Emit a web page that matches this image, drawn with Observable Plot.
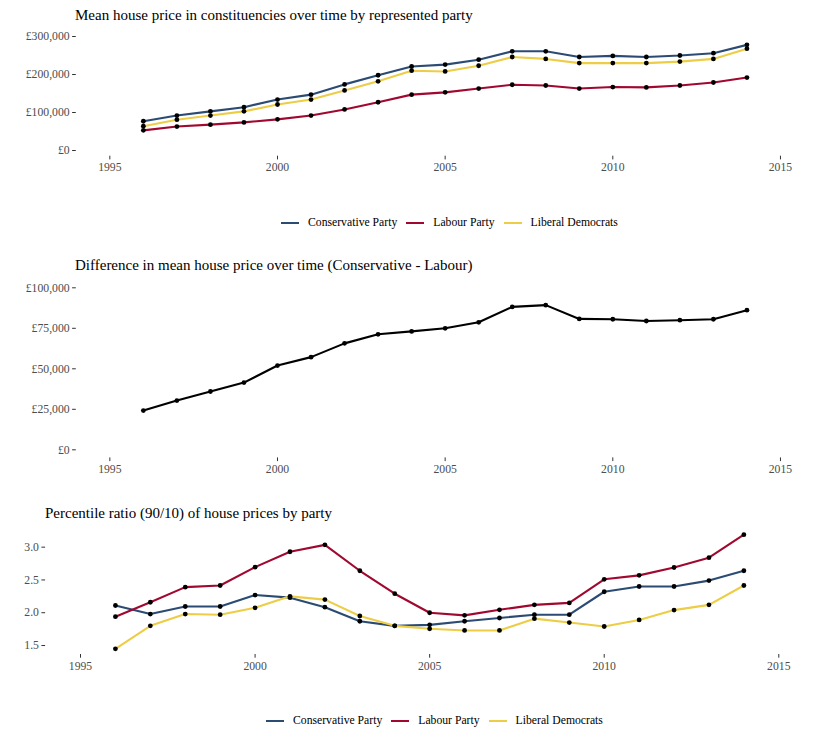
<!DOCTYPE html>
<html>
<head>
<meta charset="utf-8">
<script src="https://cdn.jsdelivr.net/npm/d3@7"></script>
<script src="https://cdn.jsdelivr.net/npm/@observablehq/plot@0.6"></script>
<style>
  html, body { margin: 0; padding: 0; background: #fff; }
  #root { position: relative; width: 821px; height: 748px; font-family: "Liberation Serif", "Times New Roman", serif; }
  #root svg, #root svg text { font-family: "Liberation Serif", "Times New Roman", serif !important; }
  .abs { position: absolute; }
  .title { font-size: 15px; line-height: 20px; color: #000; white-space: nowrap; }
  .legend { display: flex; align-items: center; font-size: 11.7px; color: #000; line-height: 16px; white-space: nowrap; }
  .legend .key { width: 18px; height: 2px; margin-right: 9px; }
  .legend .lab { margin-right: 9px; }
</style>
</head>
<body>
<div id="root"></div>
<script>
// ---------- data ----------
const years = [1996, 1997, 1998, 1999, 2000, 2001, 2002, 2003, 2004, 2005, 2006, 2007, 2008, 2009, 2010, 2011, 2012, 2013, 2014];
const parties = ["Conservative Party", "Labour Party", "Liberal Democrats"];
const partyColors = ["#2B4B73", "#A0082F", "#EDCD45"];

// Mean house price (GBP) by represented party
const conMean = [77000, 92000, 103000, 114000, 134000, 147000, 174000, 198000, 221000, 226000, 239000, 261000, 261000, 246000, 249000, 246000, 250000, 256000, 278000];
const labMean = [53000, 63000, 68000, 74000, 82000, 92000, 108000, 127000, 147000, 153000, 163000, 173000, 171000, 163000, 167000, 166000, 171000, 179000, 192000];
const ldMean  = [64000, 81000, 92000, 103000, 121000, 134000, 158000, 182000, 210000, 208000, 223000, 246000, 241000, 230000, 230000, 230000, 234000, 241000, 268000];

// Difference in mean house price (Conservative - Labour)
const diffMean = [24200, 30400, 36000, 41500, 52000, 57200, 65700, 71300, 73100, 75000, 78700, 88200, 89300, 80800, 80600, 79500, 80000, 80600, 86200];

// Percentile ratio 90/10
const conRatio = [2.11, 1.98, 2.095, 2.095, 2.27, 2.23, 2.085, 1.87, 1.80, 1.815, 1.87, 1.92, 1.97, 1.97, 2.32, 2.40, 2.40, 2.49, 2.64];
const labRatio = [1.94, 2.16, 2.39, 2.415, 2.695, 2.93, 3.035, 2.64, 2.29, 2.00, 1.96, 2.045, 2.12, 2.15, 2.51, 2.57, 2.69, 2.84, 3.19];
const ldRatio  = [1.45, 1.80, 1.98, 1.97, 2.075, 2.25, 2.20, 1.95, 1.80, 1.755, 1.73, 1.73, 1.91, 1.85, 1.79, 1.89, 2.04, 2.12, 2.415];

const xTicks = [1995, 2000, 2005, 2010, 2015];
const meanTicks = [0, 100000, 200000, 300000];
const diffTicks = [0, 25000, 50000, 75000, 100000];
const ratioTicks = [1.5, 2.0, 2.5, 3.0];

// ---------- helpers ----------
const root = document.getElementById("root");
const pound = d => "£" + d3.format(",")(d);

function longTable(seriesList) {
  return seriesList.flatMap((vals, i) => years.map((y, j) => ({year: y, value: vals[j], party: parties[i]})));
}

function addTitle(text, left, centerY) {
  const d = document.createElement("div");
  d.className = "abs title";
  d.style.left = left + "px";
  d.style.top = (centerY - 10) + "px";
  d.textContent = text;
  root.appendChild(d);
}

function addLegend(left, centerY) {
  const d = document.createElement("div");
  d.className = "abs legend";
  d.style.left = left + "px";
  d.style.top = (centerY - 8) + "px";
  parties.forEach((p, i) => {
    const k = document.createElement("span");
    k.className = "key";
    k.style.background = partyColors[i];
    const t = document.createElement("span");
    t.className = "lab";
    t.textContent = p;
    d.appendChild(k);
    d.appendChild(t);
  });
  root.appendChild(d);
}

function panel({top, height, mL, mR, mT, mB, yDomain, yTicks, yFormat, data, single}) {
  const axisStyle = {tickSize: 3.7, tickPadding: 3, stroke: "#333333", fill: "#4D4D4D"};
  const marks = [
    Plot.axisX({...axisStyle, ticks: xTicks, tickFormat: d => String(d), label: null}),
    Plot.axisY({...axisStyle, ticks: yTicks, tickFormat: yFormat, label: null})
  ];
  if (single) {
    marks.push(Plot.line(data, {x: "year", y: "value", stroke: "black", strokeWidth: 2.1}));
  } else {
    marks.push(Plot.line(data, {x: "year", y: "value", stroke: "party", strokeWidth: 2.1}));
  }
  marks.push(Plot.dot(data, {x: "year", y: "value", fill: "black", r: 2.4}));
  const svg = Plot.plot({
    width: 821,
    height,
    marginLeft: mL, marginRight: mR, marginTop: mT, marginBottom: mB,
    x: {domain: [1994, 2016]},
    y: {domain: yDomain},
    color: {domain: parties, range: partyColors},
    style: "font-family: 'Liberation Serif', 'Times New Roman', serif; font-size: 11.7px; color: #4D4D4D; background: transparent; overflow: visible;",
    marks
  });
  const wrap = document.createElement("div");
  wrap.className = "abs";
  wrap.style.left = "0px";
  wrap.style.top = top + "px";
  wrap.appendChild(svg);
  root.appendChild(wrap);
}

// ---------- panel 1 ----------
addTitle("Mean house price in constituencies over time by represented party", 75, 15);
panel({top: 20, height: 160, mL: 75.8, mR: 7.5, mT: 10.3, mB: 24.3,
  yDomain: [-15000, 315000], yTicks: meanTicks, yFormat: pound,
  data: longTable([conMean, labMean, ldMean])});
addLegend(281, 223);

// ---------- panel 2 ----------
addTitle("Difference in mean house price over time (Conservative - Labour)", 75, 265);
panel({top: 270, height: 210, mL: 75.8, mR: 7.5, mT: 9.2, mB: 22.6,
  yDomain: [-5000, 105000], yTicks: diffTicks, yFormat: pound,
  data: years.map((y, j) => ({year: y, value: diffMean[j]})), single: true});

// ---------- panel 3 ----------
addTitle("Percentile ratio (90/10) of house prices by party", 45, 513);
panel({top: 520, height: 160, mL: 45.1, mR: 7.8, mT: 8.5, mB: 26,
  yDomain: [1.363, 3.277], yTicks: ratioTicks, yFormat: d3.format(".1f"),
  data: longTable([conRatio, labRatio, ldRatio])});
addLegend(266, 721);
</script>
</body>
</html>
